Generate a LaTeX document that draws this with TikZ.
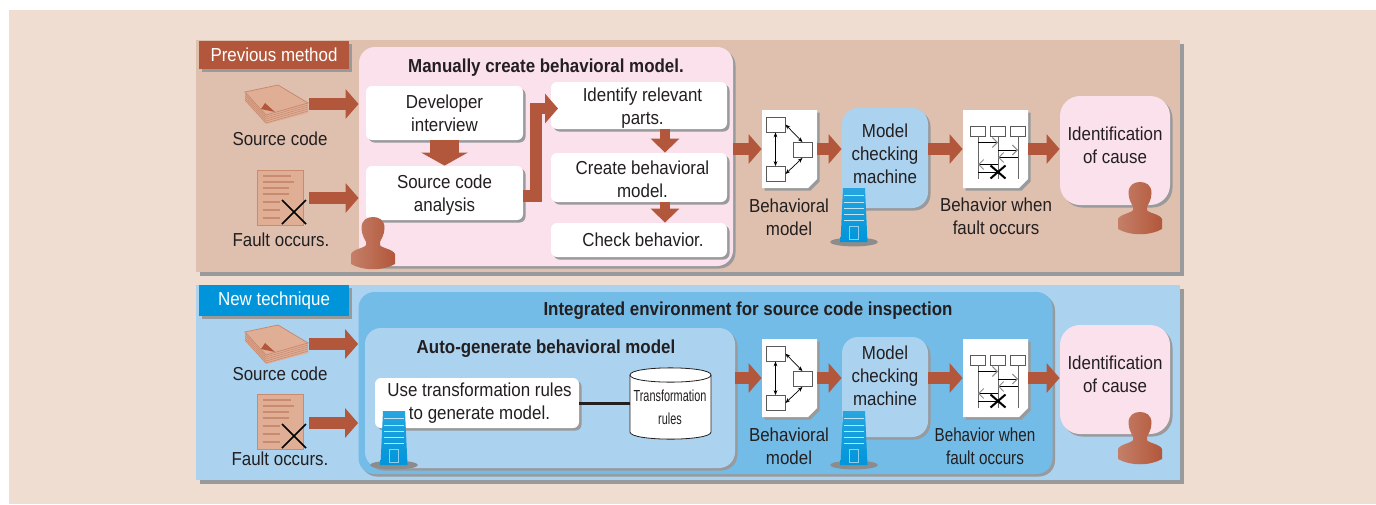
\documentclass[tikz,border=0pt]{standalone}
\usepackage{fontspec}
\setmainfont[FakeStretch=0.9]{Liberation Sans}
\newfontfamily\rulefont[FakeStretch=0.68]{Liberation Sans}
\newfontfamily\tightfont[FakeStretch=0.81]{Liberation Sans}
\usetikzlibrary{arrows.meta,shadows}

\definecolor{pagebg}{HTML}{F0DDD1}
\definecolor{peach}{HTML}{DFC0AE}
\definecolor{sky}{HTML}{ABD2EF}
\definecolor{midblue}{HTML}{74BCE8}
\definecolor{tabblue}{HTML}{0095DA}
\definecolor{pink}{HTML}{FAE1EC}
\definecolor{rust}{HTML}{B2573B}
\definecolor{shadowgrey}{HTML}{999A9C}
\definecolor{ink}{HTML}{231F20}
\definecolor{iconfill}{HTML}{DFAE95}
\definecolor{iconline}{HTML}{C98A70}

\tikzset{
    grey shade/.style={drop shadow={shadow xshift=#1,shadow yshift=-#1,fill=shadowgrey,opacity=1}},
    grey shade/.default=1.25pt,
    lbl/.style={font=\fontsize{9.4}{11.5}\selectfont,text=ink,align=center,inner sep=0},
    heading/.style={lbl,font=\fontsize{9.4}{11.5}\selectfont\bfseries},
    tabbox/.style={lbl,text=white,minimum width=75pt,grey shade=1.5pt},
    panel/.style={minimum width=492pt,inner sep=0,grey shade=2pt},
    softbox/.style={rounded corners=8pt,inner sep=0,grey shade},
    whitebox/.style={lbl,fill=white,rounded corners=3pt,grey shade},
    pagebox/.style={inner sep=0,minimum height=39pt},
    flow/.style={draw=rust,line width=5.75pt,-{Triangle[length=6.5pt,width=14.5pt,fill=rust]}},
    fatflow/.style={draw=rust,line width=14.5pt,-{Triangle[length=6.5pt,width=23pt,fill=rust]}},
    stepflow/.style={draw=rust,line width=5pt,-{Triangle[length=7pt,width=14pt,fill=rust]}},
    unitbox/.style={draw=black!65,fill=white,line width=0.4pt,inner sep=0},
    person/.pic={
        \shade[left color=rust!70!pagebg,right color=rust]
            (-11.5,11) .. controls (-11.5,3) and (-6,0) .. (0,0)
            .. controls (6,0) and (11.5,3) .. (11.5,11)
            .. controls (11.5,18) and (8,22) .. (7,25) -- (7,28)
            .. controls (8,31) and (20,32) .. (22,37) -- (22,47)
            .. controls (10,54) and (-10,54) .. (-22,47) -- (-22,37)
            .. controls (-20,32) and (-8,31) .. (-7,28) -- (-7,25)
            .. controls (-8,22) and (-11.5,18) .. cycle;
    },
    server/.pic={
        \fill[black!45] (0,54) ellipse (12pt and 2.2pt);
        \shade[top color=tabblue!85!white,bottom color=tabblue] (-11,0) -- (11,0) -- (13.5,54) -- (-13.5,54) -- cycle;
        \foreach \y in {7,14,20,26,32}
            \draw[white!75!tabblue,line width=0.4pt] (-10,\y) -- (10,\y);
        \draw[white!55!tabblue,line width=0.5pt] (-4.5,38) rectangle (4.5,51);
    },
    paperstack/.pic={
        \fill[iconfill] (0,0) -- (0,9) -- (21,32) -- (63,21) -- (63,11) -- (33,-7) -- cycle;
        \foreach \y in {2,4,6,8}
            \draw[iconline,line width=0.3pt] (0,\y) -- (21,23+\y) -- (63,11+\y);
        \draw[iconline,line width=0.4pt] (0,0) -- (33,-7) -- (63,11) -- (21,23) -- cycle;
        \fill[rust] (16,17) -- (20,11) -- (30,20) -- cycle;
    },
    faultpage/.pic={
        \draw[iconline,fill=iconfill,line width=0.4pt] (0,0) rectangle (46,55);
        \foreach \y/\x in {6/28,12/31,18/26,24/26,32/17,40/17,48/17}
            \draw[iconline,line width=0.8pt] (6,\y) -- (6+\x,\y);
        \draw[black,line width=0.8pt] (25,30) -- (49,54) (49,30) -- (25,54);
    },
    modelflow/.pic={
        \path[fill=white,grey shade] (0,0) -- (55,0) -- (55,69) -- (46,78) -- (0,78) -- cycle;
        \node[unitbox,minimum width=9.5pt,minimum height=7.5pt] (-a) at (13.5,14.5) {};
        \node[unitbox,minimum width=9.5pt,minimum height=7.5pt] (-b) at (40.5,40) {};
        \node[unitbox,minimum width=9.5pt,minimum height=7.5pt] (-c) at (13.5,64) {};
        \draw[{Stealth[length=2.5pt]}-{Stealth[length=2.5pt]},line width=0.35pt] (-a) -- (-c);
        \draw[{Stealth[length=2.5pt]}-{Stealth[length=2.5pt]},line width=0.35pt] (-a.east) -- (-b.north);
        \draw[{Stealth[length=2.5pt]}-{Stealth[length=2.5pt]},line width=0.35pt] (-c.east) -- (-b.south);
    },
    seqflow/.pic={
        \path[fill=white,grey shade] (0,5) -- (65,5) -- (65,74) -- (56,83) -- (0,83) -- cycle;
        \node[unitbox,minimum width=7.5pt,minimum height=5pt] (-a) at (15,26) {};
        \node[unitbox,minimum width=7.5pt,minimum height=5pt] (-b) at (35,26) {};
        \node[unitbox,minimum width=7.5pt,minimum height=5pt] (-c) at (55,26) {};
        \draw[black!60,line width=0.4pt] (-a.south) -- ++(0,43) (-b.south) -- ++(0,43) (-c.south) -- ++(0,43);
        \draw[line width=0.5pt,-{Straight Barb[length=2.5pt,width=5pt,color=black!45]}] (15,37.5) -- (35,37.5);
        \draw[line width=0.5pt,-{Straight Barb[length=2.5pt,width=5pt,color=black!45]}] (35,45) -- (55,45);
        \draw[line width=0.5pt,-{Straight Barb[length=2.5pt,width=5pt,color=black!45]}] (55,52.5) -- (35,52.5);
        \draw[line width=0.5pt,-{Straight Barb[length=2.5pt,width=5pt,color=black!45]}] (35,59.5) -- (15,59.5);
        \draw[line width=0.5pt] (15,67) -- (35,67);
        \draw[black,line width=1pt] (27.5,60.5) -- (42.5,73.5) (42.5,60.5) -- (27.5,73.5);
    }
}

\begin{document}
\begin{tikzpicture}[x=0.5pt,y=-0.5pt]
    \useasboundingbox (0,0) rectangle (1376,504);
    \fill[pagebg] (9,10) rectangle (1376,504);

    \node[panel,fill=peach,minimum height=116pt] (prevPanel) at (688,156) {};
    \node[panel,fill=sky,minimum height=97.5pt] (newPanel) at (688,382.5) {};
    \node[tabbox,fill=rust,minimum height=14pt] (prevTab) at (274,55) {Previous method};
    \node[tabbox,fill=tabblue,minimum height=15.5pt] (newTab) at (274,300.5) {New technique};

    \pic at (245,92) {paperstack};
    \pic at (245,332) {paperstack};
    \pic at (257,170) {faultpage};
    \pic at (257,394) {faultpage};
    \node[lbl] (srcLblA) at (280,139) {Source code};
    \node[lbl] (srcLblB) at (280,374) {Source code};
    \node[lbl] (faultLblA) at (281,240) {Fault occurs.};
    \node[lbl] (faultLblB) at (280,459) {Fault occurs.};

    \node[softbox,fill=pink,minimum width=187pt,minimum height=109.5pt] (manualBox) at (546,156.5) {};
    \node[heading] (manualLbl) at (546,68) {Manually create behavioral model.};
    \node[whitebox,minimum width=78.5pt,minimum height=27pt] (devBox) at (444.5,113) {Developer\\interview};
    \node[whitebox,minimum width=78.5pt,minimum height=27pt] (codeBox) at (444.5,193) {};
    \node[whitebox,minimum width=88pt,minimum height=23.5pt] (partsBox) at (639,105.5) {};
    \node[whitebox,minimum width=88pt,minimum height=24.5pt] (createBox) at (639,177.5) {};
    \node[whitebox,minimum width=88pt,minimum height=17pt] (checkBox) at (639,240) {};
    \node[lbl] (codeLbl) at (444.5,195) {Source code\\analysis};
    \node[lbl] (partsLbl) at (642.5,108.5) {Identify relevant\\parts.};
    \node[lbl] (createLbl) at (642.5,179.5) {Create behavioral\\model.};
    \node[lbl] (checkLbl) at (643,240) {Check behavior.};
    \coordinate (elbowIn) at (523,196);
    \coordinate (elbowOut) at (558,108.5);
    \draw[fatflow] (devBox) ++(0,27) -- (codeBox.north);
    \draw[flow] (elbowIn) -- (536,196) -- (536,108.5) -- (elbowOut);
    \draw[stepflow] (partsBox) ++(26,23.5) -- (createBox.north -| 665,0);
    \draw[stepflow] (createBox) ++(26,24.5) -- (checkBox.north -| 665,0);
    \pic at (373,217) {person};

    \node[softbox,fill=midblue,minimum width=347pt,minimum height=91pt] (ideBox) at (705.5,383) {};
    \node[heading] (ideLbl) at (748,311) {Integrated environment for source code inspection};
    \node[softbox,fill=sky,minimum width=185pt,minimum height=70pt] (autoBox) at (550,398) {};
    \node[heading] (autoLbl) at (546,349) {Auto-generate behavioral model};
    \node[whitebox,minimum width=102pt,minimum height=25pt] (ruleBox) at (477,403) {};
    \node[lbl] (ruleBoxLbl) at (479.5,403.5) {Use transformation rules\\to generate model.};
    \node[inner sep=0,minimum width=40.5pt,minimum height=35.5pt] (ruleDb) at (670.5,403.5) {};
    \draw[ink,fill=white,line width=0.4pt] (630,375) .. controls (630,365.5) and (711,365.5) .. (711,375) -- (711,432)
        .. controls (711,441.5) and (630,441.5) .. (630,432) -- cycle;
    \draw[ink,line width=0.4pt] (630,375) .. controls (630,384.5) and (711,384.5) .. (711,375);
    \node[lbl,font=\rulefont\fontsize{8}{11.5}\selectfont] (ruleLbl) at (670,407.5) {Transformation\\rules};
    \draw[ink,line width=1.5pt] (ruleBox.east) -- (ruleDb.west |- ruleBox.east);
    \pic at (394,411) {server};

    \node[pagebox,minimum width=27.5pt] (modelA) at (789.5,149) {};
    \node[pagebox,minimum width=27.5pt] (modelB) at (789.5,378) {};
    \pic at (762,110) {modelflow};
    \pic at (762,339) {modelflow};
    \node[lbl] (modelLblA) at (789,217.5) {Behavioral\\model};
    \node[lbl] (modelLblB) at (789,446.5) {Behavioral\\model};

    \node[softbox,fill=sky,minimum width=43pt,minimum height=50pt] (mcA) at (885,158) {};
    \node[softbox,fill=sky,minimum width=43pt,minimum height=50pt] (mcB) at (885,387) {};
    \node[lbl] (mcLblA) at (885,153.5) {Model\\checking\\machine};
    \node[lbl] (mcLblB) at (885,376) {Model\\checking\\machine};
    \pic at (854,188) {server};
    \pic at (854,411) {server};

    \node[pagebox,minimum width=32.5pt] (seqA) at (995.5,149) {};
    \node[pagebox,minimum width=32.5pt] (seqB) at (995.5,378) {};
    \pic at (963,105) {seqflow};
    \pic at (963,334) {seqflow};
    \node[lbl] (seqLblA) at (996,216.5) {Behavior when\\fault occurs};
    \node[lbl,font=\tightfont\fontsize{9.4}{11.5}\selectfont] (seqLblB) at (985,446.5) {Behavior when\\fault occurs};

    \node[softbox,fill=pink,rounded corners=10pt,minimum width=55pt,minimum height=54.5pt] (causeA) at (1115,150.5) {};
    \node[softbox,fill=pink,rounded corners=10pt,minimum width=55pt,minimum height=54.5pt] (causeB) at (1115,379.5) {};
    \node[lbl] (causeLblA) at (1115,145.5) {Identification\\of cause};
    \node[lbl] (causeLblB) at (1115,374.5) {Identification\\of cause};
    \pic at (1140,182) {person};
    \pic at (1140,412) {person};

    \coordinate (srcOutA) at (309,104);
    \coordinate (faultOutA) at (309,198);
    \coordinate (srcOutB) at (309,344);
    \coordinate (faultOutB) at (309,423);
    \draw[flow] (srcOutA) -- (srcOutA -| manualBox.west);
    \draw[flow] (faultOutA) -- (faultOutA -| manualBox.west);
    \draw[flow] (srcOutB) -- (srcOutB -| ideBox.west);
    \draw[flow] (faultOutB) -- (faultOutB -| ideBox.west);

    \draw[flow] (manualBox.east |- modelA.west) -- (modelA.west);
    \draw[flow] (modelA.east) -- (modelA.east -| mcA.west);
    \draw[flow] (mcA.east |- seqA.west) -- (seqA.west);
    \draw[flow] (seqA.east) -- (seqA.east -| causeA.west);
    \draw[flow] (autoBox.east |- modelB.west) -- (modelB.west);
    \draw[flow] (modelB.east) -- (modelB.east -| mcB.west);
    \draw[flow] (mcB.east |- seqB.west) -- (seqB.west);
    \draw[flow] (seqB.east) -- (seqB.east -| causeB.west);
\end{tikzpicture}
\end{document}
